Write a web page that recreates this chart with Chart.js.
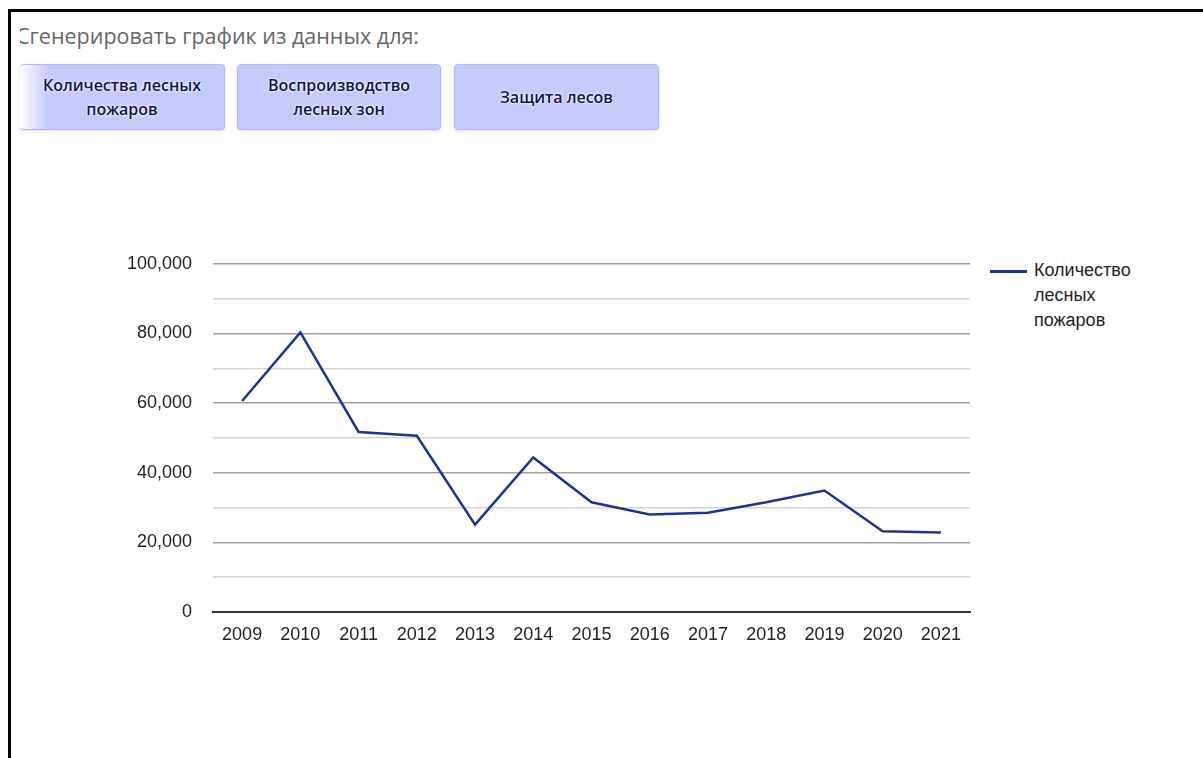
<!DOCTYPE html>
<html lang="ru">
<head>
<meta charset="utf-8">
<script src="https://cdn.jsdelivr.net/npm/chart.js@4/dist/chart.umd.min.js"></script>
<style>
    html, body { margin: 0; padding: 0; background: #fff; }
    body { width: 1203px; height: 758px; position: relative; overflow: hidden; font-family: "Liberation Sans", Arial, sans-serif; }
    .frame { position: absolute; left: 8px; top: 9px; width: 1300px; height: 800px; border-top: 3px solid #000; border-left: 3px solid #000; }
    .title { position: absolute; left: 20px; top: 21px; width: 520px; height: 36px; overflow: hidden; }
    .title span { position: absolute; left: -4px; top: 0; font-family: "Open Sans", "Noto Sans", sans-serif; font-size: 21.5px; color: #666; white-space: nowrap; }
    .btn { position: absolute; top: 64px; height: 66px; background: #c4cbfb; border: 1px solid #b3baf2; border-radius: 4px;
           box-shadow: 0 1px 3px rgba(0,0,0,0.15); display: flex; align-items: center; justify-content: center; text-align: center;
           font-family: "Open Sans", "Noto Sans", sans-serif; font-weight: 600; font-size: 16px; line-height: 24px; color: #0e1245;
           text-shadow: 0 0 3px #fff, 0 0 2px #fff; box-sizing: border-box; }
    .btn.first { background: linear-gradient(to right, #ffffff 0px, #c4cbfb 28px); border-left: none; }
    #wrap { position: absolute; left: 110px; top: 232px; width: 880px; height: 428px; }
    .legend { position: absolute; left: 990px; top: 258px; font-size: 18px; line-height: 25px; color: #222; }
    .legend .item { position: relative; padding-left: 44px; }
    .legend .swatch { position: absolute; left: 0; top: 12px; width: 37px; height: 3px; }
</style>
</head>
<body>
<div class="frame"></div>
<div class="title"><span>Сгенерировать график из данных для:</span></div>
<div class="btn first" style="left:20px; width:205px;">Количества лесных<br>пожаров</div>
<div class="btn" style="left:237px; width:204px;">Воспроизводство<br>лесных зон</div>
<div class="btn" style="left:454px; width:205px;">Защита лесов</div>

<div id="wrap"><canvas id="fireChart"></canvas></div>
<div class="legend" id="legend"></div>

<script>
var years = ['2009', '2010', '2011', '2012', '2013', '2014', '2015', '2016', '2017', '2018', '2019', '2020', '2021'];
var fires = [60600, 80300, 51700, 50600, 25100, 44400, 31500, 28000, 28500, 31500, 34900, 23200, 22800];
var seriesName = ['Количество', 'лесных', 'пожаров'];
var lineColor = '#1a3690';

var ctx = document.getElementById('fireChart').getContext('2d');
var fireChart = new Chart(ctx, {
    type: 'line',
    data: {
        labels: years,
        datasets: [{
            label: seriesName.join(' '),
            data: fires,
            borderColor: lineColor,
            backgroundColor: lineColor,
            borderWidth: 2.5,
            pointRadius: 0,
            tension: 0,
            fill: false
        }]
    },
    options: {
        responsive: true,
        maintainAspectRatio: false,
        animation: false,
        layout: { padding: { top: 12, right: 20, left: 0, bottom: 0 } },
        plugins: {
            legend: { display: false },
            tooltip: { enabled: false }
        },
        scales: {
            x: {
                offset: true,
                grid: { display: false, drawTicks: false },
                border: { color: '#333', width: 2 },
                ticks: {
                    padding: 12,
                    color: '#222',
                    font: { family: '"Liberation Sans", Arial, sans-serif', size: 18 },
                    maxRotation: 0,
                    autoSkip: false
                },
                afterFit: function (scale) { scale.height = 48; }
            },
            y: {
                min: 0,
                max: 100000,
                grid: {
                    drawTicks: false,
                    lineWidth: 1.5,
                    color: function (c) {
                        if (c.tick.value === 0) return '#333';
                        return c.tick.value % 20000 === 0 ? '#a0a0a0' : '#d4d4d4';
                    }
                },
                border: { display: false },
                ticks: {
                    stepSize: 10000,
                    padding: 21,
                    color: '#222',
                    font: { family: '"Liberation Sans", Arial, sans-serif', size: 18 },
                    callback: function (value) {
                        return value % 20000 === 0 ? value.toLocaleString('en-US') : '';
                    }
                },
                afterFit: function (scale) { scale.width = 103; }
            }
        }
    }
});

// legend with the series name broken over three lines
var legend = document.getElementById('legend');
var html = '<div class="item"><span class="swatch" style="background:' + lineColor + '"></span>';
html += seriesName.join('<br>') + '</div>';
legend.innerHTML = html;
</script>
</body>
</html>
